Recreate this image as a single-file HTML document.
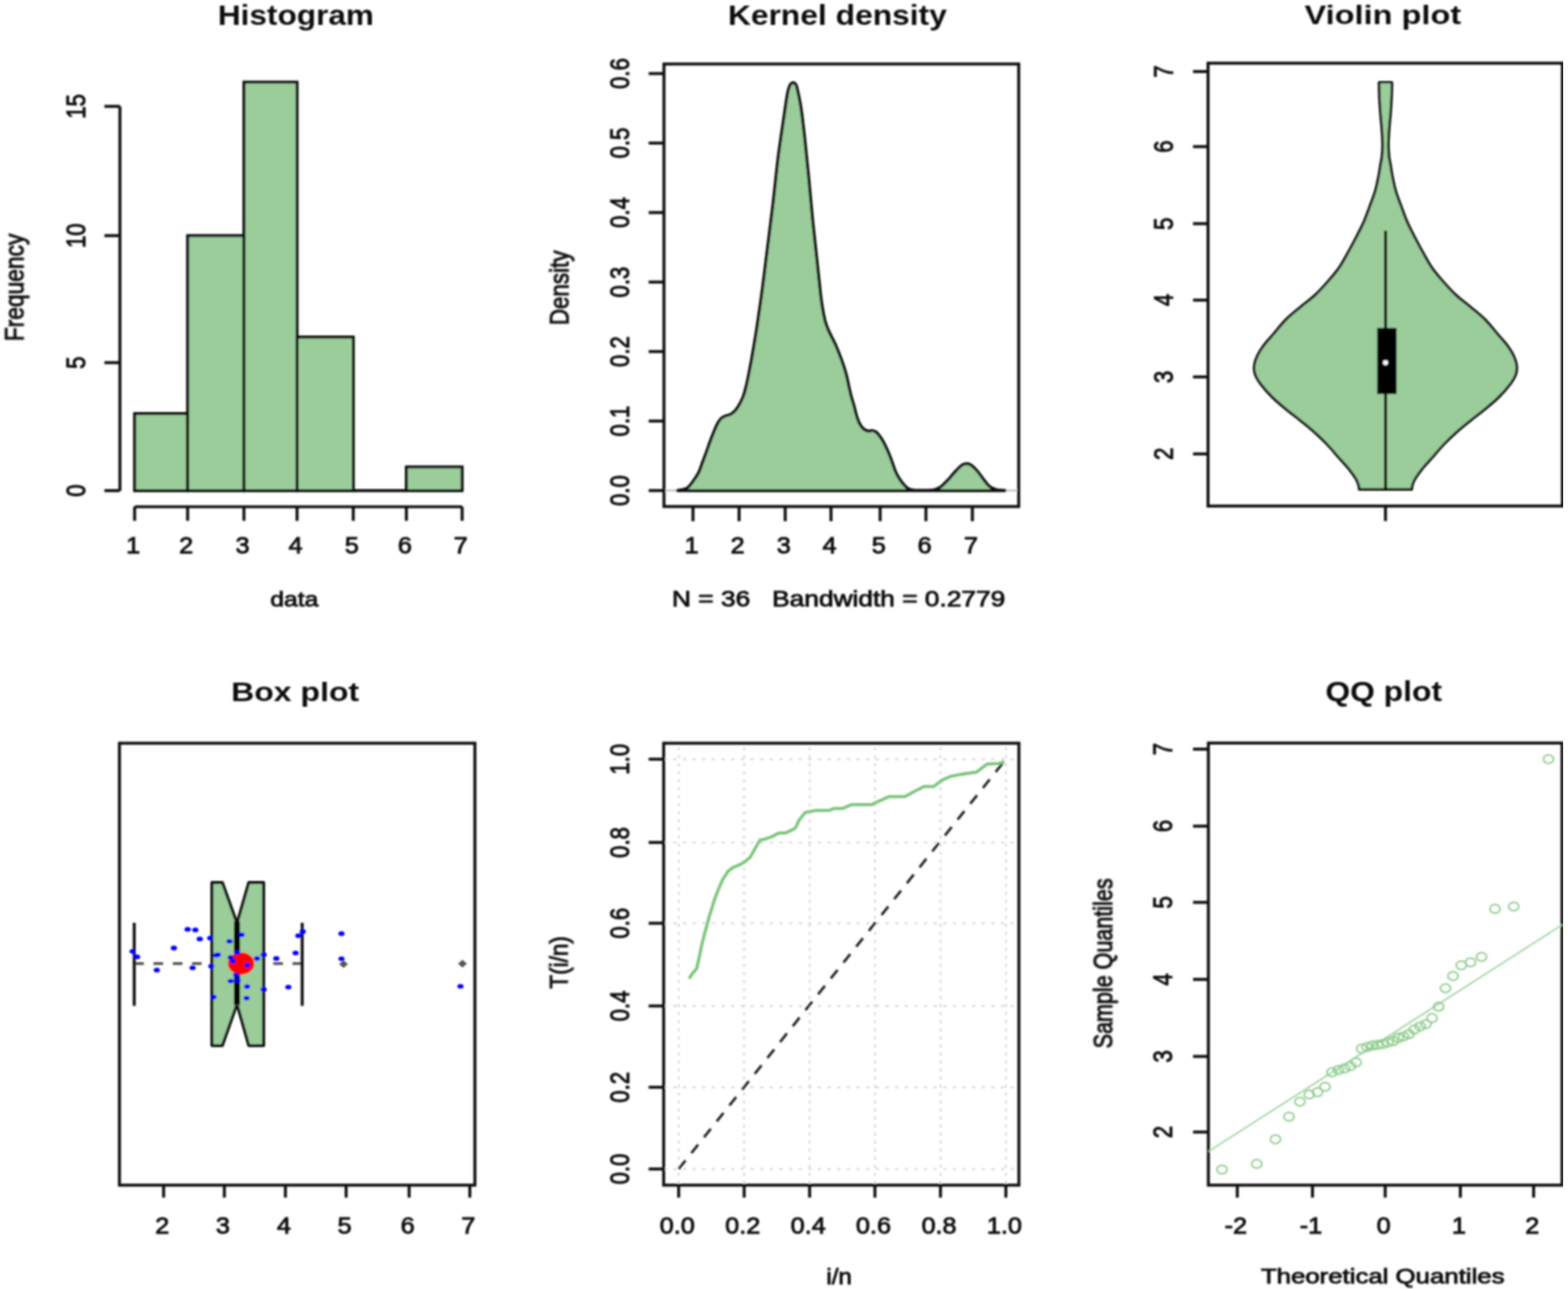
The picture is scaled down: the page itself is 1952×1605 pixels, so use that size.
<!DOCTYPE html>
<html><head><meta charset="utf-8"><title>Distribution plots</title>
<style>
html,body{margin:0;padding:0;background:#fff;overflow:hidden;width:1952px;height:1605px;}
svg{display:block;}
text{font-family:'Liberation Sans', Arial, sans-serif;}
</style></head>
<body>
<svg width="1952" height="1605" viewBox="0 0 1952 1605">
<rect width="1952" height="1605" fill="#fff"/>
<defs><filter id="bl" x="0" y="0" width="1" height="1"><feGaussianBlur stdDeviation="1.0"/></filter></defs>
<g stroke-linecap="butt" filter="url(#bl)">
<rect x="167.60" y="515.00" width="66.00" height="95.90" fill="#9BCD9B" stroke="#111" stroke-width="3.7"/>
<rect x="233.60" y="293.40" width="70.10" height="317.50" fill="#9BCD9B" stroke="#111" stroke-width="3.7"/>
<rect x="303.70" y="102.30" width="66.10" height="508.60" fill="#9BCD9B" stroke="#111" stroke-width="3.7"/>
<rect x="369.80" y="419.70" width="70.00" height="191.20" fill="#9BCD9B" stroke="#111" stroke-width="3.7"/>
<line x1="439.80" y1="610.90" x2="505.90" y2="610.90" stroke="#111" stroke-width="3.7"/>
<rect x="505.90" y="581.40" width="69.40" height="29.50" fill="#9BCD9B" stroke="#111" stroke-width="3.7"/>
<line x1="149.30" y1="610.90" x2="149.30" y2="132.40" stroke="#111" stroke-width="3.7"/>
<line x1="130.00" y1="610.90" x2="149.30" y2="610.90" stroke="#111" stroke-width="3.7"/>
<text xml:space="preserve" transform="translate(105.70,618.57) scale(1.2000,1) rotate(-90)" font-size="27.6" fill="#111" stroke="#111" stroke-width="1.0">0</text>
<line x1="130.00" y1="451.60" x2="149.30" y2="451.60" stroke="#111" stroke-width="3.7"/>
<text xml:space="preserve" transform="translate(105.70,459.27) scale(1.2000,1) rotate(-90)" font-size="27.6" fill="#111" stroke="#111" stroke-width="1.0">5</text>
<line x1="130.00" y1="293.40" x2="149.30" y2="293.40" stroke="#111" stroke-width="3.7"/>
<text xml:space="preserve" transform="translate(105.70,308.75) scale(1.2000,1) rotate(-90)" font-size="27.6" fill="#111" stroke="#111" stroke-width="1.0">10</text>
<line x1="130.00" y1="132.40" x2="149.30" y2="132.40" stroke="#111" stroke-width="3.7"/>
<text xml:space="preserve" transform="translate(105.70,147.75) scale(1.2000,1) rotate(-90)" font-size="27.6" fill="#111" stroke="#111" stroke-width="1.0">15</text>
<line x1="167.60" y1="631.00" x2="575.30" y2="631.00" stroke="#111" stroke-width="3.7"/>
<line x1="167.60" y1="631.00" x2="167.60" y2="648.50" stroke="#111" stroke-width="3.7"/>
<text xml:space="preserve" transform="translate(157.05,689.00) scale(1.0850,1)" font-size="29.0" fill="#111" stroke="#111" stroke-width="1.0">1</text>
<line x1="233.60" y1="631.00" x2="233.60" y2="648.50" stroke="#111" stroke-width="3.7"/>
<text xml:space="preserve" transform="translate(223.05,689.00) scale(1.0850,1)" font-size="29.0" fill="#111" stroke="#111" stroke-width="1.0">2</text>
<line x1="303.70" y1="631.00" x2="303.70" y2="648.50" stroke="#111" stroke-width="3.7"/>
<text xml:space="preserve" transform="translate(293.15,689.00) scale(1.0850,1)" font-size="29.0" fill="#111" stroke="#111" stroke-width="1.0">3</text>
<line x1="369.80" y1="631.00" x2="369.80" y2="648.50" stroke="#111" stroke-width="3.7"/>
<text xml:space="preserve" transform="translate(359.25,689.00) scale(1.0850,1)" font-size="29.0" fill="#111" stroke="#111" stroke-width="1.0">4</text>
<line x1="439.80" y1="631.00" x2="439.80" y2="648.50" stroke="#111" stroke-width="3.7"/>
<text xml:space="preserve" transform="translate(429.25,689.00) scale(1.0850,1)" font-size="29.0" fill="#111" stroke="#111" stroke-width="1.0">5</text>
<line x1="505.90" y1="631.00" x2="505.90" y2="648.50" stroke="#111" stroke-width="3.7"/>
<text xml:space="preserve" transform="translate(495.35,689.00) scale(1.0850,1)" font-size="29.0" fill="#111" stroke="#111" stroke-width="1.0">6</text>
<line x1="575.30" y1="631.00" x2="575.30" y2="648.50" stroke="#111" stroke-width="3.7"/>
<text xml:space="preserve" transform="translate(564.75,689.00) scale(1.0850,1)" font-size="29.0" fill="#111" stroke="#111" stroke-width="1.0">7</text>
<text xml:space="preserve" transform="translate(271.27,30.70) scale(1.1340,1)" font-size="34.64" font-weight="bold" fill="#111">Histogram</text>
<text xml:space="preserve" transform="translate(336.51,755.00) scale(1.1594,1)" font-size="26.50" fill="#111" stroke="#111" stroke-width="1.0">data</text>
<text xml:space="preserve" transform="translate(29.60,424.83) scale(1.1891,1) rotate(-90)" font-size="28.36" fill="#111" stroke="#111" stroke-width="1.0">Frequency</text>
<line x1="826.60" y1="610.80" x2="1268.20" y2="610.80" stroke="#C8C8C8" stroke-width="2.5"/>
<path d="M843.50,610.60 C844.42,610.47 846.83,610.42 849.00,609.80 C851.17,609.18 854.17,608.70 856.50,606.90 C858.83,605.10 860.80,602.03 863.00,599.00 C865.20,595.97 867.78,592.53 869.70,588.70 C871.62,584.87 872.85,580.40 874.50,576.00 C876.15,571.60 877.93,566.88 879.60,562.30 C881.27,557.72 882.85,552.92 884.50,548.50 C886.15,544.08 888.00,539.38 889.50,535.80 C891.00,532.22 892.12,529.47 893.50,527.00 C894.88,524.53 896.22,522.50 897.80,521.00 C899.38,519.50 901.07,518.83 903.00,518.00 C904.93,517.17 907.32,517.17 909.40,516.00 C911.48,514.83 913.58,513.20 915.50,511.00 C917.42,508.80 919.23,505.80 920.90,502.80 C922.57,499.80 924.12,496.85 925.50,493.00 C926.88,489.15 928.03,484.53 929.20,479.70 C930.37,474.87 931.40,469.50 932.50,464.00 C933.60,458.50 934.72,452.70 935.80,446.70 C936.88,440.70 937.90,434.62 939.00,428.00 C940.10,421.38 940.73,418.20 942.40,407.00 C944.07,395.80 946.80,377.30 949.00,360.80 C951.20,344.30 953.40,325.62 955.60,308.00 C957.80,290.38 960.00,273.82 962.20,255.10 C964.40,236.38 966.60,213.32 968.80,195.70 C971.00,178.08 973.47,162.62 975.40,149.40 C977.33,136.18 979.05,123.63 980.40,116.40 C981.75,109.17 982.40,108.23 983.50,106.00 C984.60,103.77 985.92,103.25 987.00,103.00 C988.08,102.75 989.17,103.57 990.00,104.50 C990.83,105.43 990.85,103.87 992.00,108.60 C993.15,113.33 995.27,122.23 996.90,132.90 C998.53,143.57 1000.15,157.73 1001.80,172.60 C1003.45,187.47 1005.15,205.05 1006.80,222.10 C1008.45,239.15 1010.05,258.38 1011.70,274.90 C1013.35,291.42 1015.05,305.78 1016.70,321.20 C1018.35,336.62 1020.30,356.43 1021.60,367.40 C1022.90,378.37 1023.52,381.40 1024.50,387.00 C1025.48,392.60 1026.42,397.08 1027.50,401.00 C1028.58,404.92 1029.78,407.57 1031.00,410.50 C1032.22,413.43 1033.30,415.52 1034.80,418.60 C1036.30,421.68 1038.30,425.23 1040.00,429.00 C1041.70,432.77 1043.33,436.88 1045.00,441.20 C1046.67,445.52 1048.55,450.55 1050.00,454.90 C1051.45,459.25 1052.67,463.35 1053.70,467.30 C1054.73,471.25 1055.27,474.43 1056.20,478.60 C1057.13,482.77 1058.17,487.95 1059.30,492.30 C1060.43,496.65 1061.85,500.55 1063.00,504.70 C1064.15,508.85 1065.05,513.47 1066.20,517.20 C1067.35,520.93 1068.45,524.30 1069.90,527.10 C1071.35,529.90 1073.03,532.38 1074.90,534.00 C1076.77,535.62 1079.33,536.47 1081.10,536.80 C1082.87,537.13 1084.10,535.88 1085.50,536.00 C1086.90,536.12 1088.37,536.92 1089.50,537.50 C1090.63,538.08 1090.78,537.70 1092.30,539.50 C1093.82,541.30 1096.52,544.75 1098.60,548.30 C1100.68,551.85 1102.93,556.65 1104.80,560.80 C1106.67,564.95 1108.15,568.85 1109.80,573.20 C1111.45,577.55 1112.83,582.75 1114.70,586.90 C1116.57,591.05 1118.70,594.77 1121.00,598.10 C1123.30,601.43 1126.33,604.95 1128.50,606.90 C1130.67,608.85 1132.08,609.18 1134.00,609.80 C1135.92,610.42 1139.00,610.47 1140.00,610.60 L1158.00,610.60 C1159.10,610.40 1162.27,610.23 1164.60,609.40 C1166.93,608.57 1169.30,607.68 1172.00,605.60 C1174.70,603.52 1177.88,600.02 1180.80,596.90 C1183.72,593.78 1186.60,589.92 1189.50,586.90 C1192.40,583.88 1195.72,580.38 1198.20,578.80 C1200.68,577.22 1202.53,577.28 1204.40,577.40 C1206.27,577.52 1207.32,577.92 1209.40,579.50 C1211.48,581.08 1214.40,584.00 1216.90,586.90 C1219.40,589.80 1221.92,593.78 1224.40,596.90 C1226.88,600.02 1229.32,603.52 1231.80,605.60 C1234.28,607.68 1237.00,608.60 1239.30,609.40 C1241.60,610.20 1243.65,610.18 1245.60,610.40 C1247.55,610.62 1250.10,610.65 1251.00,610.70 L1251,610.8 L843.5,610.8 Z" fill="#9BCD9B" stroke="#111" stroke-width="3.7" stroke-linejoin="round"/>
<rect x="826.60" y="79.70" width="441.60" height="551.00" fill="none" stroke="#111" stroke-width="3.7"/>
<line x1="807.50" y1="610.80" x2="826.60" y2="610.80" stroke="#111" stroke-width="3.7"/>
<text xml:space="preserve" transform="translate(783.00,629.98) scale(1.2000,1) rotate(-90)" font-size="27.6" fill="#111" stroke="#111" stroke-width="1.0">0.0</text>
<line x1="807.50" y1="524.27" x2="826.60" y2="524.27" stroke="#111" stroke-width="3.7"/>
<text xml:space="preserve" transform="translate(783.00,543.45) scale(1.2000,1) rotate(-90)" font-size="27.6" fill="#111" stroke="#111" stroke-width="1.0">0.1</text>
<line x1="807.50" y1="437.74" x2="826.60" y2="437.74" stroke="#111" stroke-width="3.7"/>
<text xml:space="preserve" transform="translate(783.00,456.92) scale(1.2000,1) rotate(-90)" font-size="27.6" fill="#111" stroke="#111" stroke-width="1.0">0.2</text>
<line x1="807.50" y1="351.21" x2="826.60" y2="351.21" stroke="#111" stroke-width="3.7"/>
<text xml:space="preserve" transform="translate(783.00,370.39) scale(1.2000,1) rotate(-90)" font-size="27.6" fill="#111" stroke="#111" stroke-width="1.0">0.3</text>
<line x1="807.50" y1="264.68" x2="826.60" y2="264.68" stroke="#111" stroke-width="3.7"/>
<text xml:space="preserve" transform="translate(783.00,283.86) scale(1.2000,1) rotate(-90)" font-size="27.6" fill="#111" stroke="#111" stroke-width="1.0">0.4</text>
<line x1="807.50" y1="178.15" x2="826.60" y2="178.15" stroke="#111" stroke-width="3.7"/>
<text xml:space="preserve" transform="translate(783.00,197.33) scale(1.2000,1) rotate(-90)" font-size="27.6" fill="#111" stroke="#111" stroke-width="1.0">0.5</text>
<line x1="807.50" y1="91.62" x2="826.60" y2="91.62" stroke="#111" stroke-width="3.7"/>
<text xml:space="preserve" transform="translate(783.00,110.80) scale(1.2000,1) rotate(-90)" font-size="27.6" fill="#111" stroke="#111" stroke-width="1.0">0.6</text>
<line x1="862.70" y1="630.70" x2="862.70" y2="649.00" stroke="#111" stroke-width="3.7"/>
<text xml:space="preserve" transform="translate(852.15,689.00) scale(1.0850,1)" font-size="29.0" fill="#111" stroke="#111" stroke-width="1.0">1</text>
<line x1="920.10" y1="630.70" x2="920.10" y2="649.00" stroke="#111" stroke-width="3.7"/>
<text xml:space="preserve" transform="translate(909.55,689.00) scale(1.0850,1)" font-size="29.0" fill="#111" stroke="#111" stroke-width="1.0">2</text>
<line x1="977.50" y1="630.70" x2="977.50" y2="649.00" stroke="#111" stroke-width="3.7"/>
<text xml:space="preserve" transform="translate(966.95,689.00) scale(1.0850,1)" font-size="29.0" fill="#111" stroke="#111" stroke-width="1.0">3</text>
<line x1="1034.50" y1="630.70" x2="1034.50" y2="649.00" stroke="#111" stroke-width="3.7"/>
<text xml:space="preserve" transform="translate(1023.95,689.00) scale(1.0850,1)" font-size="29.0" fill="#111" stroke="#111" stroke-width="1.0">4</text>
<line x1="1095.70" y1="630.70" x2="1095.70" y2="649.00" stroke="#111" stroke-width="3.7"/>
<text xml:space="preserve" transform="translate(1085.15,689.00) scale(1.0850,1)" font-size="29.0" fill="#111" stroke="#111" stroke-width="1.0">5</text>
<line x1="1152.70" y1="630.70" x2="1152.70" y2="649.00" stroke="#111" stroke-width="3.7"/>
<text xml:space="preserve" transform="translate(1142.15,689.00) scale(1.0850,1)" font-size="29.0" fill="#111" stroke="#111" stroke-width="1.0">6</text>
<line x1="1210.50" y1="630.70" x2="1210.50" y2="649.00" stroke="#111" stroke-width="3.7"/>
<text xml:space="preserve" transform="translate(1199.95,689.00) scale(1.0850,1)" font-size="29.0" fill="#111" stroke="#111" stroke-width="1.0">7</text>
<text xml:space="preserve" transform="translate(906.15,30.70) scale(1.1472,1)" font-size="34.50" font-weight="bold" fill="#111">Kernel density</text>
<text xml:space="preserve" transform="translate(836.61,755.40) scale(1.1922,1)" font-size="27.46" fill="#111" stroke="#111" stroke-width="1.0">N = 36   Bandwidth = 0.2779</text>
<text xml:space="preserve" transform="translate(707.70,404.79) scale(1.2131,1) rotate(-90)" font-size="27.87" fill="#111" stroke="#111" stroke-width="1.0">Density</text>
<path d="M1732.80,102.50 C1732.73,105.42 1732.67,113.75 1732.40,120.00 C1732.13,126.25 1731.70,133.33 1731.20,140.00 C1730.70,146.67 1729.87,153.33 1729.40,160.00 C1728.93,166.67 1728.43,174.17 1728.40,180.00 C1728.37,185.83 1728.77,190.83 1729.20,195.00 C1729.63,199.17 1730.32,201.00 1731.00,205.00 C1731.68,209.00 1732.20,213.50 1733.30,219.00 C1734.40,224.50 1735.75,231.67 1737.60,238.00 C1739.45,244.33 1742.07,250.67 1744.40,257.00 C1746.73,263.33 1748.83,269.67 1751.60,276.00 C1754.37,282.33 1757.73,288.67 1761.00,295.00 C1764.27,301.33 1767.65,307.67 1771.20,314.00 C1774.75,320.33 1778.45,327.33 1782.30,333.00 C1786.15,338.67 1789.35,342.33 1794.30,348.00 C1799.25,353.67 1806.00,361.33 1812.00,367.00 C1818.00,372.67 1824.17,376.83 1830.30,382.00 C1836.43,387.17 1843.13,392.33 1848.80,398.00 C1854.47,403.67 1859.72,410.67 1864.30,416.00 C1868.88,421.33 1872.97,425.50 1876.30,430.00 C1879.63,434.50 1882.33,438.83 1884.30,443.00 C1886.27,447.17 1887.63,451.17 1888.10,455.00 C1888.57,458.83 1888.40,462.17 1887.10,466.00 C1885.80,469.83 1883.77,473.33 1880.30,478.00 C1876.83,482.67 1871.47,488.83 1866.30,494.00 C1861.13,499.17 1855.30,504.00 1849.30,509.00 C1843.30,514.00 1836.47,519.00 1830.30,524.00 C1824.13,529.00 1817.88,534.00 1812.30,539.00 C1806.72,544.00 1801.72,548.83 1796.80,554.00 C1791.88,559.17 1787.07,565.17 1782.80,570.00 C1778.53,574.83 1774.70,578.67 1771.20,583.00 C1767.70,587.33 1763.95,592.50 1761.80,596.00 C1759.65,599.50 1759.02,601.77 1758.30,604.00 C1757.58,606.23 1757.63,608.50 1757.50,609.40 L1692.10,609.40 C1691.97,608.50 1692.02,606.23 1691.30,604.00 C1690.58,601.77 1689.95,599.50 1687.80,596.00 C1685.65,592.50 1681.90,587.33 1678.40,583.00 C1674.90,578.67 1671.07,574.83 1666.80,570.00 C1662.53,565.17 1657.72,559.17 1652.80,554.00 C1647.88,548.83 1642.88,544.00 1637.30,539.00 C1631.72,534.00 1625.47,529.00 1619.30,524.00 C1613.13,519.00 1606.30,514.00 1600.30,509.00 C1594.30,504.00 1588.47,499.17 1583.30,494.00 C1578.13,488.83 1572.77,482.67 1569.30,478.00 C1565.83,473.33 1563.80,469.83 1562.50,466.00 C1561.20,462.17 1561.03,458.83 1561.50,455.00 C1561.97,451.17 1563.33,447.17 1565.30,443.00 C1567.27,438.83 1569.97,434.50 1573.30,430.00 C1576.63,425.50 1580.72,421.33 1585.30,416.00 C1589.88,410.67 1595.13,403.67 1600.80,398.00 C1606.47,392.33 1613.17,387.17 1619.30,382.00 C1625.43,376.83 1631.60,372.67 1637.60,367.00 C1643.60,361.33 1650.35,353.67 1655.30,348.00 C1660.25,342.33 1663.45,338.67 1667.30,333.00 C1671.15,327.33 1674.85,320.33 1678.40,314.00 C1681.95,307.67 1685.33,301.33 1688.60,295.00 C1691.87,288.67 1695.23,282.33 1698.00,276.00 C1700.77,269.67 1702.87,263.33 1705.20,257.00 C1707.53,250.67 1710.15,244.33 1712.00,238.00 C1713.85,231.67 1715.20,224.50 1716.30,219.00 C1717.40,213.50 1717.92,209.00 1718.60,205.00 C1719.28,201.00 1719.97,199.17 1720.40,195.00 C1720.83,190.83 1721.23,185.83 1721.20,180.00 C1721.17,174.17 1720.67,166.67 1720.20,160.00 C1719.73,153.33 1718.90,146.67 1718.40,140.00 C1717.90,133.33 1717.47,126.25 1717.20,120.00 C1716.93,113.75 1716.87,105.42 1716.80,102.50 Z" fill="#9BCD9B" stroke="#111" stroke-width="3.2" stroke-linejoin="round"/>
<line x1="1724.80" y1="287.20" x2="1724.80" y2="609.40" stroke="#000" stroke-width="3.7"/>
<rect x="1714.4" y="408.3" width="24.2" height="82.3" fill="#000"/>
<circle cx="1724.8" cy="451.6" r="3.1" fill="#fff"/>
<rect x="1503.90" y="78.70" width="441.10" height="551.40" fill="none" stroke="#111" stroke-width="3.7"/>
<line x1="1485.20" y1="565.20" x2="1503.90" y2="565.20" stroke="#111" stroke-width="3.7"/>
<text xml:space="preserve" transform="translate(1459.50,572.87) scale(1.2000,1) rotate(-90)" font-size="27.6" fill="#111" stroke="#111" stroke-width="1.0">2</text>
<line x1="1485.20" y1="469.30" x2="1503.90" y2="469.30" stroke="#111" stroke-width="3.7"/>
<text xml:space="preserve" transform="translate(1459.50,476.97) scale(1.2000,1) rotate(-90)" font-size="27.6" fill="#111" stroke="#111" stroke-width="1.0">3</text>
<line x1="1485.20" y1="373.70" x2="1503.90" y2="373.70" stroke="#111" stroke-width="3.7"/>
<text xml:space="preserve" transform="translate(1459.50,381.37) scale(1.2000,1) rotate(-90)" font-size="27.6" fill="#111" stroke="#111" stroke-width="1.0">4</text>
<line x1="1485.20" y1="278.50" x2="1503.90" y2="278.50" stroke="#111" stroke-width="3.7"/>
<text xml:space="preserve" transform="translate(1459.50,286.17) scale(1.2000,1) rotate(-90)" font-size="27.6" fill="#111" stroke="#111" stroke-width="1.0">5</text>
<line x1="1485.20" y1="182.60" x2="1503.90" y2="182.60" stroke="#111" stroke-width="3.7"/>
<text xml:space="preserve" transform="translate(1459.50,190.27) scale(1.2000,1) rotate(-90)" font-size="27.6" fill="#111" stroke="#111" stroke-width="1.0">6</text>
<line x1="1485.20" y1="89.10" x2="1503.90" y2="89.10" stroke="#111" stroke-width="3.7"/>
<text xml:space="preserve" transform="translate(1459.50,96.77) scale(1.2000,1) rotate(-90)" font-size="27.6" fill="#111" stroke="#111" stroke-width="1.0">7</text>
<line x1="1724.80" y1="630.10" x2="1724.80" y2="648.80" stroke="#111" stroke-width="3.7"/>
<text xml:space="preserve" transform="translate(1624.02,29.80) scale(1.2025,1)" font-size="33.67" font-weight="bold" fill="#111">Violin plot</text>
<rect x="148.70" y="925.40" width="442.50" height="550.30" fill="none" stroke="#111" stroke-width="3.7"/>
<line x1="203.70" y1="1475.70" x2="203.70" y2="1491.20" stroke="#111" stroke-width="3.7"/>
<text xml:space="preserve" transform="translate(193.15,1536.20) scale(1.0850,1)" font-size="29.0" fill="#111" stroke="#111" stroke-width="1.0">2</text>
<line x1="279.30" y1="1475.70" x2="279.30" y2="1491.20" stroke="#111" stroke-width="3.7"/>
<text xml:space="preserve" transform="translate(268.75,1536.20) scale(1.0850,1)" font-size="29.0" fill="#111" stroke="#111" stroke-width="1.0">3</text>
<line x1="355.30" y1="1475.70" x2="355.30" y2="1491.20" stroke="#111" stroke-width="3.7"/>
<text xml:space="preserve" transform="translate(344.75,1536.20) scale(1.0850,1)" font-size="29.0" fill="#111" stroke="#111" stroke-width="1.0">4</text>
<line x1="430.90" y1="1475.70" x2="430.90" y2="1491.20" stroke="#111" stroke-width="3.7"/>
<text xml:space="preserve" transform="translate(420.35,1536.20) scale(1.0850,1)" font-size="29.0" fill="#111" stroke="#111" stroke-width="1.0">5</text>
<line x1="509.30" y1="1475.70" x2="509.30" y2="1491.20" stroke="#111" stroke-width="3.7"/>
<text xml:space="preserve" transform="translate(498.75,1536.20) scale(1.0850,1)" font-size="29.0" fill="#111" stroke="#111" stroke-width="1.0">6</text>
<line x1="584.90" y1="1475.70" x2="584.90" y2="1491.20" stroke="#111" stroke-width="3.7"/>
<text xml:space="preserve" transform="translate(574.35,1536.20) scale(1.0850,1)" font-size="29.0" fill="#111" stroke="#111" stroke-width="1.0">7</text>
<line x1="167.10" y1="1199.70" x2="263.80" y2="1199.70" stroke="#555" stroke-width="3.6" stroke-dasharray="12 12"/>
<line x1="376.20" y1="1199.70" x2="328.20" y2="1199.70" stroke="#555" stroke-width="3.6" stroke-dasharray="12 12"/>
<line x1="167.10" y1="1149.00" x2="167.10" y2="1252.40" stroke="#111" stroke-width="3.7"/>
<line x1="376.20" y1="1149.00" x2="376.20" y2="1252.40" stroke="#111" stroke-width="3.7"/>
<polygon points="263.80,1098.90 276.80,1098.90 293.90,1146.50 296.00,1146.50 309.70,1098.90 328.20,1098.90 328.20,1301.80 309.70,1301.80 296.00,1253.50 293.90,1253.50 276.80,1301.80 263.80,1301.80" fill="#9BCD9B" stroke="#111" stroke-width="3.7" stroke-linejoin="round"/>
<line x1="295.00" y1="1147.60" x2="295.00" y2="1251.50" stroke="#000" stroke-width="7.5"/>
<polygon points="422.2,1200.5 427.7,1195.7 433.2,1200.5 427.7,1205.3" fill="#555"/>
<polygon points="570.2,1199.9 575.7,1195.1 581.2,1199.9 575.7,1204.7" fill="#555"/>
<ellipse cx="300.1" cy="1199.7" rx="16.5" ry="14" fill="#FF0000"/>
<ellipse cx="165.1" cy="1184.6" rx="3.9" ry="2.9" fill="#0000FF"/>
<ellipse cx="170.6" cy="1191.4" rx="3.9" ry="2.9" fill="#0000FF"/>
<ellipse cx="195.2" cy="1207.9" rx="3.9" ry="2.9" fill="#0000FF"/>
<ellipse cx="216.5" cy="1180.5" rx="3.9" ry="2.9" fill="#0000FF"/>
<ellipse cx="233.6" cy="1157.2" rx="3.9" ry="2.9" fill="#0000FF"/>
<ellipse cx="243.2" cy="1157.9" rx="3.9" ry="2.9" fill="#0000FF"/>
<ellipse cx="248.7" cy="1169.2" rx="3.9" ry="2.9" fill="#0000FF"/>
<ellipse cx="261.7" cy="1168.1" rx="3.9" ry="2.9" fill="#0000FF"/>
<ellipse cx="239.8" cy="1205.1" rx="3.9" ry="2.9" fill="#0000FF"/>
<ellipse cx="263.1" cy="1203.1" rx="3.9" ry="2.9" fill="#0000FF"/>
<ellipse cx="269.3" cy="1189.4" rx="3.9" ry="2.9" fill="#0000FF"/>
<ellipse cx="271.3" cy="1188.7" rx="3.9" ry="2.9" fill="#0000FF"/>
<ellipse cx="265.8" cy="1241.5" rx="3.9" ry="2.9" fill="#0000FF"/>
<ellipse cx="285.7" cy="1172.2" rx="3.9" ry="2.9" fill="#0000FF"/>
<ellipse cx="300.8" cy="1164" rx="3.9" ry="2.9" fill="#0000FF"/>
<ellipse cx="295.3" cy="1186" rx="3.9" ry="2.9" fill="#0000FF"/>
<ellipse cx="287.1" cy="1192.1" rx="3.9" ry="2.9" fill="#0000FF"/>
<ellipse cx="289.8" cy="1196.9" rx="3.9" ry="2.9" fill="#0000FF"/>
<ellipse cx="307.6" cy="1201.7" rx="3.9" ry="2.9" fill="#0000FF"/>
<ellipse cx="293.9" cy="1214.1" rx="3.9" ry="2.9" fill="#0000FF"/>
<ellipse cx="287.1" cy="1221.6" rx="3.9" ry="2.9" fill="#0000FF"/>
<ellipse cx="296" cy="1220.9" rx="3.9" ry="2.9" fill="#0000FF"/>
<ellipse cx="307.6" cy="1228.5" rx="3.9" ry="2.9" fill="#0000FF"/>
<ellipse cx="307" cy="1242.8" rx="3.9" ry="2.9" fill="#0000FF"/>
<ellipse cx="320" cy="1193.5" rx="3.9" ry="2.9" fill="#0000FF"/>
<ellipse cx="328.2" cy="1188.7" rx="3.9" ry="2.9" fill="#0000FF"/>
<ellipse cx="328.2" cy="1231.9" rx="3.9" ry="2.9" fill="#0000FF"/>
<ellipse cx="344" cy="1193.5" rx="3.9" ry="2.9" fill="#0000FF"/>
<ellipse cx="359" cy="1229.1" rx="3.9" ry="2.9" fill="#0000FF"/>
<ellipse cx="368" cy="1186.6" rx="3.9" ry="2.9" fill="#0000FF"/>
<ellipse cx="371.4" cy="1165.1" rx="3.9" ry="2.9" fill="#0000FF"/>
<ellipse cx="376.9" cy="1159.9" rx="3.9" ry="2.9" fill="#0000FF"/>
<ellipse cx="425.1" cy="1162.5" rx="3.9" ry="2.9" fill="#0000FF"/>
<ellipse cx="425.1" cy="1193.8" rx="3.9" ry="2.9" fill="#0000FF"/>
<ellipse cx="573.2" cy="1228.1" rx="3.9" ry="2.9" fill="#0000FF"/>
<text xml:space="preserve" transform="translate(287.73,873.10) scale(1.1743,1)" font-size="33.95" font-weight="bold" fill="#111">Box plot</text>
<line x1="844.90" y1="925.40" x2="844.90" y2="1475.70" stroke="#D6D6D6" stroke-width="2.4" stroke-dasharray="3.4 6.6" stroke-dashoffset="4.9"/>
<line x1="826.20" y1="1455.60" x2="1268.40" y2="1455.60" stroke="#D6D6D6" stroke-width="2.2" stroke-dasharray="4 8"/>
<line x1="926.40" y1="925.40" x2="926.40" y2="1475.70" stroke="#D6D6D6" stroke-width="2.4" stroke-dasharray="3.4 6.6" stroke-dashoffset="4.9"/>
<line x1="826.20" y1="1353.80" x2="1268.40" y2="1353.80" stroke="#D6D6D6" stroke-width="2.2" stroke-dasharray="4 8"/>
<line x1="1007.90" y1="925.40" x2="1007.90" y2="1475.70" stroke="#D6D6D6" stroke-width="2.4" stroke-dasharray="3.4 6.6" stroke-dashoffset="4.9"/>
<line x1="826.20" y1="1252.60" x2="1268.40" y2="1252.60" stroke="#D6D6D6" stroke-width="2.2" stroke-dasharray="4 8"/>
<line x1="1089.20" y1="925.40" x2="1089.20" y2="1475.70" stroke="#D6D6D6" stroke-width="2.4" stroke-dasharray="3.4 6.6" stroke-dashoffset="4.9"/>
<line x1="826.20" y1="1149.60" x2="1268.40" y2="1149.60" stroke="#D6D6D6" stroke-width="2.2" stroke-dasharray="4 8"/>
<line x1="1170.80" y1="925.40" x2="1170.80" y2="1475.70" stroke="#D6D6D6" stroke-width="2.4" stroke-dasharray="3.4 6.6" stroke-dashoffset="4.9"/>
<line x1="826.20" y1="1049.00" x2="1268.40" y2="1049.00" stroke="#D6D6D6" stroke-width="2.2" stroke-dasharray="4 8"/>
<line x1="1252.20" y1="925.40" x2="1252.20" y2="1475.70" stroke="#D6D6D6" stroke-width="2.4" stroke-dasharray="3.4 6.6" stroke-dashoffset="4.9"/>
<line x1="826.20" y1="945.30" x2="1268.40" y2="945.30" stroke="#D6D6D6" stroke-width="2.2" stroke-dasharray="4 8"/>
<line x1="844.90" y1="1455.60" x2="1252.20" y2="945.30" stroke="#222" stroke-width="3.2" stroke-dasharray="13.5 11.8"/>
<polyline points="857.90,1218.60 862.00,1212.00 867.20,1206.40 870.10,1193.50 873.70,1176.30 877.30,1162.00 880.10,1152.00 882.30,1143.30 885.90,1131.90 889.40,1120.40 893.70,1108.90 898.00,1098.90 900.90,1093.20 906.60,1084.60 912.40,1080.30 922.40,1076.00 928.10,1072.40 933.90,1067.40 939.60,1057.30 946.10,1045.90 951.10,1045.20 959.70,1042.30 969.70,1037.30 978.30,1037.00 989.80,1031.50 995.50,1020.10 1002.70,1011.50 1016.00,1009.20 1032.00,1009.20 1038.60,1006.60 1049.30,1006.60 1059.90,1001.90 1085.20,1001.90 1093.20,997.90 1106.60,991.90 1126.50,991.90 1139.90,984.60 1150.50,979.30 1162.50,979.30 1173.10,971.30 1183.80,966.60 1197.10,964.00 1215.80,961.30 1229.10,951.30 1243.70,950.60 1250.40,948.60" fill="none" stroke="#78C478" stroke-width="3.8" stroke-linejoin="round"/>
<rect x="826.20" y="925.40" width="442.20" height="550.30" fill="none" stroke="#111" stroke-width="3.7"/>
<line x1="807.50" y1="1455.60" x2="826.20" y2="1455.60" stroke="#111" stroke-width="3.7"/>
<text xml:space="preserve" transform="translate(783.10,1474.78) scale(1.2000,1) rotate(-90)" font-size="27.6" fill="#111" stroke="#111" stroke-width="1.0">0.0</text>
<line x1="844.90" y1="1475.70" x2="844.90" y2="1491.20" stroke="#111" stroke-width="3.7"/>
<text xml:space="preserve" transform="translate(821.23,1536.20) scale(1.0850,1)" font-size="29.0" fill="#111" stroke="#111" stroke-width="1.0">0.0</text>
<line x1="807.50" y1="1353.80" x2="826.20" y2="1353.80" stroke="#111" stroke-width="3.7"/>
<text xml:space="preserve" transform="translate(783.10,1372.98) scale(1.2000,1) rotate(-90)" font-size="27.6" fill="#111" stroke="#111" stroke-width="1.0">0.2</text>
<line x1="926.40" y1="1475.70" x2="926.40" y2="1491.20" stroke="#111" stroke-width="3.7"/>
<text xml:space="preserve" transform="translate(902.73,1536.20) scale(1.0850,1)" font-size="29.0" fill="#111" stroke="#111" stroke-width="1.0">0.2</text>
<line x1="807.50" y1="1252.60" x2="826.20" y2="1252.60" stroke="#111" stroke-width="3.7"/>
<text xml:space="preserve" transform="translate(783.10,1271.78) scale(1.2000,1) rotate(-90)" font-size="27.6" fill="#111" stroke="#111" stroke-width="1.0">0.4</text>
<line x1="1007.90" y1="1475.70" x2="1007.90" y2="1491.20" stroke="#111" stroke-width="3.7"/>
<text xml:space="preserve" transform="translate(984.23,1536.20) scale(1.0850,1)" font-size="29.0" fill="#111" stroke="#111" stroke-width="1.0">0.4</text>
<line x1="807.50" y1="1149.60" x2="826.20" y2="1149.60" stroke="#111" stroke-width="3.7"/>
<text xml:space="preserve" transform="translate(783.10,1168.78) scale(1.2000,1) rotate(-90)" font-size="27.6" fill="#111" stroke="#111" stroke-width="1.0">0.6</text>
<line x1="1089.20" y1="1475.70" x2="1089.20" y2="1491.20" stroke="#111" stroke-width="3.7"/>
<text xml:space="preserve" transform="translate(1065.53,1536.20) scale(1.0850,1)" font-size="29.0" fill="#111" stroke="#111" stroke-width="1.0">0.6</text>
<line x1="807.50" y1="1049.00" x2="826.20" y2="1049.00" stroke="#111" stroke-width="3.7"/>
<text xml:space="preserve" transform="translate(783.10,1068.18) scale(1.2000,1) rotate(-90)" font-size="27.6" fill="#111" stroke="#111" stroke-width="1.0">0.8</text>
<line x1="1170.80" y1="1475.70" x2="1170.80" y2="1491.20" stroke="#111" stroke-width="3.7"/>
<text xml:space="preserve" transform="translate(1147.13,1536.20) scale(1.0850,1)" font-size="29.0" fill="#111" stroke="#111" stroke-width="1.0">0.8</text>
<line x1="807.50" y1="945.30" x2="826.20" y2="945.30" stroke="#111" stroke-width="3.7"/>
<text xml:space="preserve" transform="translate(783.10,964.48) scale(1.2000,1) rotate(-90)" font-size="27.6" fill="#111" stroke="#111" stroke-width="1.0">1.0</text>
<line x1="1252.20" y1="1475.70" x2="1252.20" y2="1491.20" stroke="#111" stroke-width="3.7"/>
<text xml:space="preserve" transform="translate(1228.53,1536.20) scale(1.0850,1)" font-size="29.0" fill="#111" stroke="#111" stroke-width="1.0">1.0</text>
<text xml:space="preserve" transform="translate(1028.80,1599.00) scale(1.0804,1)" font-size="27.74" fill="#111" stroke="#111" stroke-width="1.0">i/n</text>
<text xml:space="preserve" transform="translate(706.50,1231.03) scale(1.1409,1) rotate(-90)" font-size="28.06" fill="#111" stroke="#111" stroke-width="1.0">T(i/n)</text>
<rect x="1504.30" y="925.20" width="440.30" height="550.50" fill="none" stroke="#111" stroke-width="3.7"/>
<line x1="1504.30" y1="1433.80" x2="1945.40" y2="1151.20" stroke="#90CC90" stroke-width="1.6"/>
<ellipse cx="1521.29" cy="1456.24" rx="6.3" ry="5.3" fill="none" stroke="#8CCB8C" stroke-width="2.0"/>
<ellipse cx="1564.58" cy="1449.20" rx="6.3" ry="5.3" fill="none" stroke="#8CCB8C" stroke-width="2.0"/>
<ellipse cx="1587.83" cy="1418.58" rx="6.3" ry="5.3" fill="none" stroke="#8CCB8C" stroke-width="2.0"/>
<ellipse cx="1604.67" cy="1390.52" rx="6.3" ry="5.3" fill="none" stroke="#8CCB8C" stroke-width="2.0"/>
<ellipse cx="1618.27" cy="1371.79" rx="6.3" ry="5.3" fill="none" stroke="#8CCB8C" stroke-width="2.0"/>
<ellipse cx="1629.88" cy="1362.75" rx="6.3" ry="5.3" fill="none" stroke="#8CCB8C" stroke-width="2.0"/>
<ellipse cx="1640.16" cy="1359.90" rx="6.3" ry="5.3" fill="none" stroke="#8CCB8C" stroke-width="2.0"/>
<ellipse cx="1649.49" cy="1353.24" rx="6.3" ry="5.3" fill="none" stroke="#8CCB8C" stroke-width="2.0"/>
<ellipse cx="1658.11" cy="1335.17" rx="6.3" ry="5.3" fill="none" stroke="#8CCB8C" stroke-width="2.0"/>
<ellipse cx="1666.19" cy="1332.32" rx="6.3" ry="5.3" fill="none" stroke="#8CCB8C" stroke-width="2.0"/>
<ellipse cx="1673.84" cy="1330.42" rx="6.3" ry="5.3" fill="none" stroke="#8CCB8C" stroke-width="2.0"/>
<ellipse cx="1681.16" cy="1327.57" rx="6.3" ry="5.3" fill="none" stroke="#8CCB8C" stroke-width="2.0"/>
<ellipse cx="1688.22" cy="1322.81" rx="6.3" ry="5.3" fill="none" stroke="#8CCB8C" stroke-width="2.0"/>
<ellipse cx="1695.07" cy="1305.69" rx="6.3" ry="5.3" fill="none" stroke="#8CCB8C" stroke-width="2.0"/>
<ellipse cx="1701.77" cy="1303.79" rx="6.3" ry="5.3" fill="none" stroke="#8CCB8C" stroke-width="2.0"/>
<ellipse cx="1708.34" cy="1301.89" rx="6.3" ry="5.3" fill="none" stroke="#8CCB8C" stroke-width="2.0"/>
<ellipse cx="1714.84" cy="1300.94" rx="6.3" ry="5.3" fill="none" stroke="#8CCB8C" stroke-width="2.0"/>
<ellipse cx="1721.28" cy="1299.99" rx="6.3" ry="5.3" fill="none" stroke="#8CCB8C" stroke-width="2.0"/>
<ellipse cx="1727.72" cy="1298.08" rx="6.3" ry="5.3" fill="none" stroke="#8CCB8C" stroke-width="2.0"/>
<ellipse cx="1734.16" cy="1296.18" rx="6.3" ry="5.3" fill="none" stroke="#8CCB8C" stroke-width="2.0"/>
<ellipse cx="1740.66" cy="1292.38" rx="6.3" ry="5.3" fill="none" stroke="#8CCB8C" stroke-width="2.0"/>
<ellipse cx="1747.23" cy="1290.48" rx="6.3" ry="5.3" fill="none" stroke="#8CCB8C" stroke-width="2.0"/>
<ellipse cx="1753.93" cy="1287.62" rx="6.3" ry="5.3" fill="none" stroke="#8CCB8C" stroke-width="2.0"/>
<ellipse cx="1760.78" cy="1281.92" rx="6.3" ry="5.3" fill="none" stroke="#8CCB8C" stroke-width="2.0"/>
<ellipse cx="1767.84" cy="1278.11" rx="6.3" ry="5.3" fill="none" stroke="#8CCB8C" stroke-width="2.0"/>
<ellipse cx="1775.16" cy="1275.26" rx="6.3" ry="5.3" fill="none" stroke="#8CCB8C" stroke-width="2.0"/>
<ellipse cx="1782.81" cy="1267.65" rx="6.3" ry="5.3" fill="none" stroke="#8CCB8C" stroke-width="2.0"/>
<ellipse cx="1790.89" cy="1253.39" rx="6.3" ry="5.3" fill="none" stroke="#8CCB8C" stroke-width="2.0"/>
<ellipse cx="1799.51" cy="1230.56" rx="6.3" ry="5.3" fill="none" stroke="#8CCB8C" stroke-width="2.0"/>
<ellipse cx="1808.84" cy="1215.35" rx="6.3" ry="5.3" fill="none" stroke="#8CCB8C" stroke-width="2.0"/>
<ellipse cx="1819.12" cy="1202.03" rx="6.3" ry="5.3" fill="none" stroke="#8CCB8C" stroke-width="2.0"/>
<ellipse cx="1830.73" cy="1198.23" rx="6.3" ry="5.3" fill="none" stroke="#8CCB8C" stroke-width="2.0"/>
<ellipse cx="1844.33" cy="1191.57" rx="6.3" ry="5.3" fill="none" stroke="#8CCB8C" stroke-width="2.0"/>
<ellipse cx="1861.17" cy="1131.66" rx="6.3" ry="5.3" fill="none" stroke="#8CCB8C" stroke-width="2.0"/>
<ellipse cx="1884.42" cy="1128.81" rx="6.3" ry="5.3" fill="none" stroke="#8CCB8C" stroke-width="2.0"/>
<ellipse cx="1927.71" cy="945.26" rx="6.3" ry="5.3" fill="none" stroke="#8CCB8C" stroke-width="2.0"/>
<line x1="1485.20" y1="1409.60" x2="1504.30" y2="1409.60" stroke="#111" stroke-width="3.7"/>
<text xml:space="preserve" transform="translate(1459.00,1417.27) scale(1.2000,1) rotate(-90)" font-size="27.6" fill="#111" stroke="#111" stroke-width="1.0">2</text>
<line x1="1485.20" y1="1315.40" x2="1504.30" y2="1315.40" stroke="#111" stroke-width="3.7"/>
<text xml:space="preserve" transform="translate(1459.00,1323.07) scale(1.2000,1) rotate(-90)" font-size="27.6" fill="#111" stroke="#111" stroke-width="1.0">3</text>
<line x1="1485.20" y1="1219.50" x2="1504.30" y2="1219.50" stroke="#111" stroke-width="3.7"/>
<text xml:space="preserve" transform="translate(1459.00,1227.17) scale(1.2000,1) rotate(-90)" font-size="27.6" fill="#111" stroke="#111" stroke-width="1.0">4</text>
<line x1="1485.20" y1="1123.60" x2="1504.30" y2="1123.60" stroke="#111" stroke-width="3.7"/>
<text xml:space="preserve" transform="translate(1459.00,1131.27) scale(1.2000,1) rotate(-90)" font-size="27.6" fill="#111" stroke="#111" stroke-width="1.0">5</text>
<line x1="1485.20" y1="1028.70" x2="1504.30" y2="1028.70" stroke="#111" stroke-width="3.7"/>
<text xml:space="preserve" transform="translate(1459.00,1036.37) scale(1.2000,1) rotate(-90)" font-size="27.6" fill="#111" stroke="#111" stroke-width="1.0">6</text>
<line x1="1485.20" y1="932.80" x2="1504.30" y2="932.80" stroke="#111" stroke-width="3.7"/>
<text xml:space="preserve" transform="translate(1459.00,940.47) scale(1.2000,1) rotate(-90)" font-size="27.6" fill="#111" stroke="#111" stroke-width="1.0">7</text>
<line x1="1540.30" y1="1475.70" x2="1540.30" y2="1491.20" stroke="#111" stroke-width="3.7"/>
<text xml:space="preserve" transform="translate(1524.51,1536.20) scale(1.0850,1)" font-size="29.0" fill="#111" stroke="#111" stroke-width="1.0">-2</text>
<line x1="1633.90" y1="1475.70" x2="1633.90" y2="1491.20" stroke="#111" stroke-width="3.7"/>
<text xml:space="preserve" transform="translate(1618.11,1536.20) scale(1.0850,1)" font-size="29.0" fill="#111" stroke="#111" stroke-width="1.0">-1</text>
<line x1="1724.40" y1="1475.70" x2="1724.40" y2="1491.20" stroke="#111" stroke-width="3.7"/>
<text xml:space="preserve" transform="translate(1713.85,1536.20) scale(1.0850,1)" font-size="29.0" fill="#111" stroke="#111" stroke-width="1.0">0</text>
<line x1="1818.00" y1="1475.70" x2="1818.00" y2="1491.20" stroke="#111" stroke-width="3.7"/>
<text xml:space="preserve" transform="translate(1807.45,1536.20) scale(1.0850,1)" font-size="29.0" fill="#111" stroke="#111" stroke-width="1.0">1</text>
<line x1="1909.20" y1="1475.70" x2="1909.20" y2="1491.20" stroke="#111" stroke-width="3.7"/>
<text xml:space="preserve" transform="translate(1898.65,1536.20) scale(1.0850,1)" font-size="29.0" fill="#111" stroke="#111" stroke-width="1.0">2</text>
<text xml:space="preserve" transform="translate(1649.97,872.70) scale(1.1581,1)" font-size="34.23" font-weight="bold" fill="#111">QQ plot</text>
<text xml:space="preserve" transform="translate(1569.68,1598.20) scale(1.2249,1)" font-size="26.22" fill="#111" stroke="#111" stroke-width="1.0">Theoretical Quantiles</text>
<text xml:space="preserve" transform="translate(1384.90,1305.32) scale(1.2356,1) rotate(-90)" font-size="26.81" fill="#111" stroke="#111" stroke-width="1.0">Sample Quantiles</text>
</g>
</svg>
</body></html>
